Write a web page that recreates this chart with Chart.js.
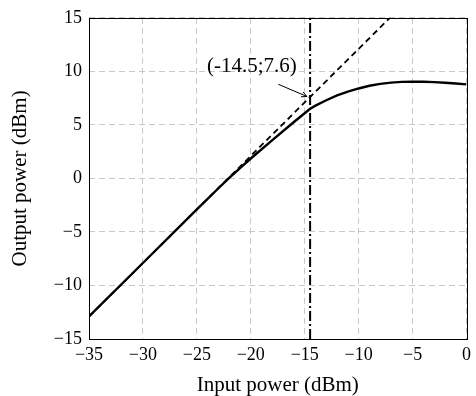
<!DOCTYPE html>
<html><head><meta charset="utf-8">
<style>html,body{margin:0;padding:0;background:#fff}#wrap{width:476px;height:396px;position:relative}</style>
<script src="https://cdn.jsdelivr.net/npm/chart.js@4/dist/chart.umd.min.js"></script>
</head><body><div id="wrap"><canvas id="c"></canvas></div>
<script>
// Amplifier output vs input power
const inputPower  = [-35, -30, -25, -23, -22, -21, -20, -18, -16, -14.5, -14, -13, -12, -11, -10, -9, -8, -7, -6, -5, -4, -3, -2, -1, 0];
const outputPower = [-12.9, -7.9, -2.9, -0.92, 0.05, 0.97, 1.86, 3.58, 5.27, 6.5, 6.8, 7.3, 7.75, 8.1, 8.4, 8.65, 8.83, 8.95, 9.02, 9.04, 9.03, 8.99, 8.93, 8.86, 8.78];
// Ideal linear gain (dashed)
const linearInput  = [-35, -7.1];
const linearOutput = [-12.9, 15];
// 1 dB compression marker (dash-dot)
const compInput  = [-14.5, -14.5];
const compOutput = [-15, 15];
// Annotation
const annotText = '(-14.5;7.6)';
const annotTextPos = [-19.9, 10.46];
const annotArrowFrom = [-17.45, 8.79];
const annotArrowTo = [-14.79, 7.65];
// Axes
const xTicks = [-35, -30, -25, -20, -15, -10, -5, 0];
const yTicks = [-15, -10, -5, 0, 5, 10, 15];
const xTitle = 'Input power (dBm)';
const yTitle = 'Output power (dBm)';

const pts = (xs, ys) => xs.map((x, i) => ({x, y: ys[i]}));
const fmt = v => v < 0 ? '\u2212' + Math.abs(v) : String(v);
const SERIF = "'Liberation Serif', 'DejaVu Serif', serif";

const framePlugin = {
  id: 'frame',
  afterDatasetsDraw(chart) {
    const {ctx, chartArea: a, scales: {x, y}} = chart;
    ctx.save();
    ctx.strokeStyle = '#000';
    ctx.lineWidth = 1;
    ctx.strokeRect(Math.round(a.left) + 0.5, Math.round(a.top) + 0.5, Math.round(a.right - a.left), Math.round(a.bottom - a.top));
    // annotation text
    ctx.fillStyle = '#000';
    ctx.font = "21px " + SERIF;
    ctx.textAlign = 'center';
    ctx.textBaseline = 'middle';
    ctx.fillText(annotText, x.getPixelForValue(annotTextPos[0]), y.getPixelForValue(annotTextPos[1]));
    // arrow
    const x1 = x.getPixelForValue(annotArrowFrom[0]), y1 = y.getPixelForValue(annotArrowFrom[1]);
    const x2 = x.getPixelForValue(annotArrowTo[0]), y2 = y.getPixelForValue(annotArrowTo[1]);
    ctx.lineWidth = 1;
    ctx.beginPath(); ctx.moveTo(x1, y1); ctx.lineTo(x2, y2); ctx.stroke();
    const ang = Math.atan2(y2 - y1, x2 - x1), L = 6;
    ctx.beginPath();
    ctx.moveTo(x2 - L * Math.cos(ang - 0.45), y2 - L * Math.sin(ang - 0.45));
    ctx.lineTo(x2, y2);
    ctx.lineTo(x2 - L * Math.cos(ang + 0.45), y2 - L * Math.sin(ang + 0.45));
    ctx.stroke();
    ctx.restore();
  }
};

new Chart(document.getElementById('c'), {
  type: 'line',
  data: {
    datasets: [
      {data: pts(inputPower, outputPower), borderColor: '#000', borderWidth: 2.4, pointRadius: 0, tension: 0, order: 1},
      {data: pts(linearInput, linearOutput), borderColor: '#000', borderWidth: 1.8, borderDash: [6, 4], pointRadius: 0, order: 2},
      {data: pts(compInput, compOutput), borderColor: '#000', borderWidth: 2, borderDash: [10, 3, 2, 3], pointRadius: 0, order: 3}
    ]
  },
  options: {
    responsive: true, maintainAspectRatio: false, animation: false,
    layout: {padding: {top: 17, right: 6, left: 0, bottom: 0}},
    plugins: {legend: {display: false}, tooltip: {enabled: false}},
    scales: {
      x: {
        type: 'linear', min: -35, max: 0,
        afterBuildTicks: s => { s.ticks = xTicks.map(v => ({value: v})); },
        afterFit: s => { s.height = 57; },
        grid: {color: '#c8c8c8', lineWidth: 1, drawTicks: false},
        border: {display: false, dash: [6, 4]},
        ticks: {color: '#000', padding: 5, font: {family: SERIF, size: 18}, callback: v => fmt(v), maxRotation: 0},
        title: {display: true, text: xTitle, color: '#000', font: {family: SERIF, size: 21, lineHeight: 1}, padding: {top: 0, bottom: 0}}
      },
      y: {
        type: 'linear', min: -15, max: 15,
        afterBuildTicks: s => { s.ticks = yTicks.map(v => ({value: v})); },
        afterFit: s => { s.width = 89; },
        grid: {color: '#c8c8c8', lineWidth: 1, drawTicks: false},
        border: {display: false, dash: [6, 4]},
        ticks: {color: '#000', padding: 7, font: {family: SERIF, size: 18}, callback: v => fmt(v)},
        title: {display: true, text: yTitle, color: '#000', font: {family: SERIF, size: 21, lineHeight: 1}, padding: {top: 10, bottom: 0}}
      }
    }
  },
  plugins: [framePlugin]
});
</script>
</body></html>
